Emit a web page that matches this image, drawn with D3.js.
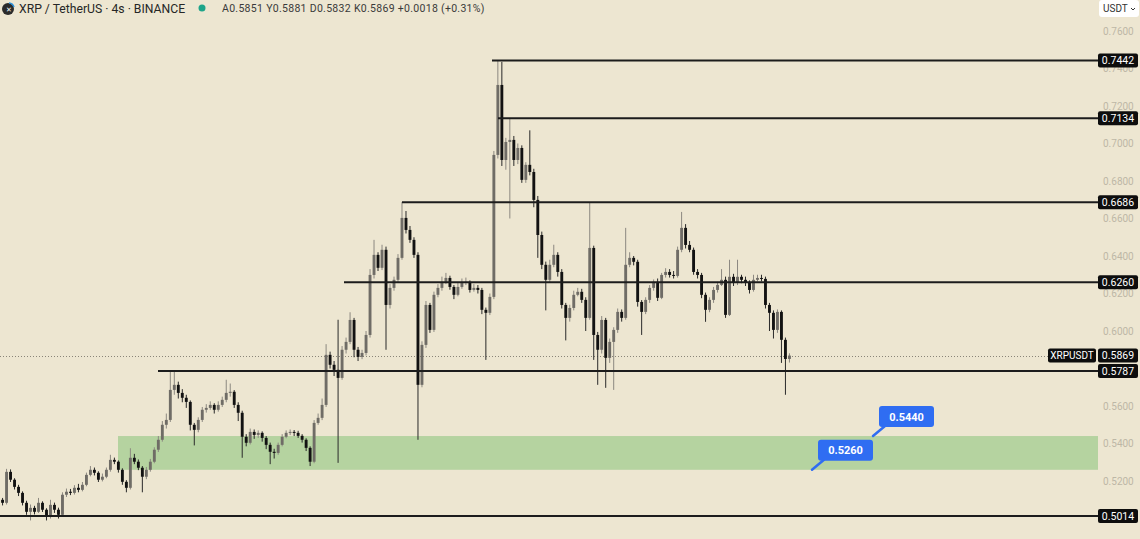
<!DOCTYPE html>
<html><head><meta charset="utf-8">
<script src="https://cdn.jsdelivr.net/npm/d3@7"></script>
<style>html,body{margin:0;padding:0;background:#ede6d1;overflow:hidden}svg{display:block}</style>
</head><body><svg id="c" width="1140" height="539"></svg>
<script>
const firstOpen = 0.5100;
const closes = [.5084,.5249,.5207,.5169,.5137,.5084,.5036,.5057,.5036,.5084,.5047,.5009,.5073,.5047,.5020,.5127,.5143,.5137,.5164,.5153,
.5180,.5233,.5260,.5244,.5207,.5223,.5260,.5313,.5303,.5260,.5196,.5164,.5324,.5303,.5271,.5223,.5260,.5303,.5367,.5420,
.5500,.5526,.5686,.5713,.5670,.5644,.5622,.5500,.5473,.5526,.5580,.5590,.5606,.5580,.5606,.5633,.5670,.5676,.5606,.5564,
.5436,.5404,.5462,.5446,.5457,.5430,.5393,.5356,.5350,.5393,.5436,.5457,.5462,.5457,.5441,.5420,.5377,.5303,.5510,.5537,
.5606,.5873,.5820,.5793,.5750,.5900,.5942,.6059,.5900,.5862,.5883,.5979,.6299,.6406,.6337,.6433,.6139,.6230,.6273,.6390,
.6603,.6539,.6486,.6406,.5713,.5926,.6139,.6006,.6193,.6230,.6262,.6283,.6235,.6193,.6235,.6257,.6262,.6219,.6230,.6219,
.6113,.6097,.6182,.6939,.7312,.6912,.7008,.7019,.6912,.6976,.6806,.6886,.6848,.6699,.6512,.6353,.6273,.6353,.6406,.6315,
.6139,.6070,.6123,.6193,.6209,.6166,.6070,.6443,.5979,.5900,.6059,.5857,.5942,.6006,.6102,.6070,.6353,.6390,.6369,.6155,
.6102,.6166,.6230,.6262,.6177,.6299,.6315,.6299,.6294,.6433,.6550,.6459,.6433,.6315,.6299,.6193,.6113,.6166,.6219,.6246,
.6273,.6086,.6289,.6257,.6289,.6273,.6257,.6219,.6273,.6283,.6278,.6139,.6097,.6006,.6102,.5953,.5851,.5869];
const highs = [.5110,.5265,.5262,.5215,.5180,.5145,.5095,.5075,.5068,.5110,.5092,.5055,.5100,.5085,.5058,.5140,.5160,.5158,.5178,.5185,
.5195,.5245,.5280,.5272,.5252,.5240,.5272,.5340,.5325,.5310,.5268,.5205,.5375,.5345,.5315,.5280,.5275,.5318,.5380,.5440,
.5520,.5560,.5787,.5785,.5730,.5690,.5660,.5630,.5510,.5540,.5595,.5610,.5625,.5615,.5625,.5650,.5740,.5720,.5685,.5620,
.5575,.5450,.5480,.5475,.5470,.5465,.5440,.5405,.5372,.5405,.5450,.5470,.5475,.5472,.5468,.5450,.5428,.5385,.5525,.5560,
.5640,.5930,.5890,.5840,.6060,.5920,.5965,.6100,.6070,.5915,.5900,.6000,.6330,.6486,.6420,.6460,.6450,.6250,.6290,.6410,
.6688,.6640,.6560,.6500,.6420,.5945,.6160,.6150,.6210,.6250,.6290,.6310,.6295,.6245,.6260,.6280,.6285,.6270,.6250,.6245,
.6230,.6125,.6200,.6960,.7442,.7435,.7030,.7136,.7040,.7000,.6990,.6900,.7070,.6865,.6720,.6530,.6370,.6380,.6460,.6420,
.6330,.6150,.6140,.6215,.6230,.6225,.6180,.6683,.6455,.5995,.6080,.6070,.5960,.6020,.6120,.6115,.6550,.6420,.6400,.6380,
.6165,.6180,.6245,.6275,.6280,.6310,.6335,.6330,.6320,.6450,.6635,.6570,.6480,.6445,.6330,.6310,.6205,.6180,.6235,.6262,
.6330,.6290,.6380,.6305,.6380,.6300,.6290,.6270,.6300,.6300,.6300,.6290,.6150,.6110,.6115,.6110,.5965,.5881];
const lows = [.5070,.5075,.5195,.5155,.5120,.5070,.5020,.4990,.5022,.5030,.5035,.4990,.5000,.5030,.5000,.5010,.5115,.5125,.5128,.5140,
.5145,.5172,.5225,.5230,.5195,.5198,.5215,.5250,.5290,.5245,.5180,.5140,.5155,.5290,.5258,.5140,.5210,.5250,.5295,.5355,
.5410,.5480,.5515,.5660,.5640,.5620,.5590,.5470,.5390,.5460,.5515,.5565,.5580,.5560,.5570,.5595,.5620,.5650,.5590,.5520,
.5324,.5385,.5395,.5425,.5430,.5410,.5370,.5290,.5320,.5340,.5385,.5428,.5445,.5440,.5430,.5405,.5360,.5280,.5295,.5500,
.5525,.5595,.5800,.5760,.5297,.5740,.5880,.5930,.5860,.5840,.5850,.5870,.5965,.6280,.6320,.6325,.5900,.6120,.6215,.6260,
.6380,.6520,.6470,.6390,.5420,.5700,.5910,.5990,.5995,.6180,.6215,.6250,.6220,.6170,.6185,.6225,.6245,.6205,.6210,.6200,
.6090,.5846,.6085,.6170,.6920,.6880,.6860,.6600,.6880,.6890,.6790,.6790,.6830,.6660,.6390,.6330,.6110,.6260,.6340,.6290,
.6120,.5950,.6050,.6110,.6185,.6150,.6000,.6060,.5846,.5713,.5880,.5697,.5830,.5686,.5990,.6050,.6060,.6340,.6350,.6130,
.5979,.6090,.6150,.6215,.6160,.6170,.6285,.6285,.6280,.6285,.6420,.6440,.6420,.6300,.6280,.6175,.6049,.6100,.6150,.6205,
.6240,.6070,.6080,.6240,.6245,.6255,.6240,.6200,.6210,.6265,.6265,.6120,.6000,.5960,.5990,.5830,.5660,.5832];

const levels = [0.7442, 0.7134, 0.6686, 0.6260, 0.5787, 0.5014];
const levelStart = [122.5, 124, 100, 85.5, 39, -0.5];
const zoneLow = 0.5260, zoneHigh = 0.5440, zoneStart = 29;
const lastPrice = 0.5869;
const tickValues = [0.76, 0.74, 0.72, 0.70, 0.68, 0.66, 0.64, 0.62, 0.60, 0.56, 0.54, 0.52];
const callouts = [{price: 0.5440, at: 217.75}, {price: 0.5260, at: 202.5}];
const title = "XRP / TetherUS · 4s · BINANCE";
const ohlcNames = ["A", "Y", "D", "K"];
const ohlcValues = [0.5851, 0.5881, 0.5832, 0.5869];
const changeText = "+0.0018 (+0.31%)";
const symbolName = "XRPUSDT";
const currency = "USDT";

const N = closes.length;
const opens = closes.map((c, i) => i === 0 ? firstOpen : closes[i - 1]);
const data = closes.map((c, i) => ({i, o: opens[i], h: highs[i], l: lows[i], c}));

const svg = d3.select("#c");
const plotRight = 1098;
const y = d3.scaleLinear().domain([0.7765, 0.4891]).range([0, 539]);
const xb = d3.scaleBand().domain(d3.range(N)).range([0, 4 * N]).padding(0.28);
const xl = d3.scaleLinear().domain([0, N - 1]).range([2, 4 * N - 2]);

svg.append("rect").attr("width", 1140).attr("height", 539).attr("fill", "#ede6d1");

// zone
svg.append("rect").attr("x", xl(zoneStart)).attr("y", y(zoneHigh))
  .attr("width", plotRight - xl(zoneStart)).attr("height", y(zoneLow) - y(zoneHigh))
  .attr("fill", "#b5d3a0");

// last price dotted line
svg.append("line").attr("x1", 0).attr("x2", 1048).attr("y1", Math.round(y(lastPrice)) + 0.5).attr("y2", Math.round(y(lastPrice)) + 0.5)
  .attr("stroke", "#8a8578").attr("stroke-width", 1).attr("stroke-dasharray", "1,2");

// candles
const upCol = "#6f6c66", downCol = "#121212";
const g = svg.append("g");
const cg = g.selectAll("g.cd").data(data).join("g");
cg.append("line")
  .attr("x1", d => xb(d.i) + xb.bandwidth() / 2).attr("x2", d => xb(d.i) + xb.bandwidth() / 2)
  .attr("y1", d => y(d.h)).attr("y2", d => y(d.l))
  .attr("stroke", d => d.c >= d.o ? "#8c8880" : "#2a2a2a").attr("stroke-width", 1);
cg.append("rect")
  .attr("x", d => xb(d.i)).attr("width", xb.bandwidth())
  .attr("y", d => y(Math.max(d.o, d.c)))
  .attr("height", d => Math.max(1, Math.abs(y(d.o) - y(d.c))))
  .attr("fill", d => d.c >= d.o ? upCol : downCol);

// level lines
svg.selectAll("line.lvl").data(levels).join("line")
  .attr("x1", (d, k) => Math.max(0, xl(levelStart[k]))).attr("x2", plotRight)
  .attr("y1", d => y(d)).attr("y2", d => y(d))
  .attr("stroke", "#1c1c1c").attr("stroke-width", 2);

// axis
const axis = d3.axisRight(y).tickValues(tickValues).tickFormat(d3.format(".4f")).tickSize(0).tickPadding(5);
const ag = svg.append("g").attr("transform", `translate(${plotRight},0)`).call(axis);
ag.select(".domain").remove();
ag.selectAll("text").attr("fill", "#bdb7a6").attr("font-family", "Roboto, sans-serif").attr("font-size", 10);

// level labels
function priceTag(v, fill) {
  const yy = y(v);
  svg.append("rect").attr("x", plotRight).attr("y", yy - 7).attr("width", 40).attr("height", 14)
    .attr("rx", 2).attr("fill", fill);
  svg.append("text").attr("x", plotRight + 20).attr("y", yy + 3.6).attr("text-anchor", "middle")
    .attr("fill", "#fff").attr("font-family", "Roboto, sans-serif").attr("font-size", 10.5)
    .text(d3.format(".4f")(v));
}
levels.forEach(v => priceTag(v, "#0d0d0d"));
priceTag(lastPrice, "#0d0d0d");
svg.append("rect").attr("x", 1048).attr("y", y(lastPrice) - 7).attr("width", 48).attr("height", 14).attr("rx", 2).attr("fill", "#0d0d0d");
svg.append("text").attr("x", 1072).attr("y", y(lastPrice) + 3.6).attr("text-anchor", "middle")
  .attr("fill", "#fff").attr("font-family", "Roboto, sans-serif").attr("font-size", 10).text(symbolName);

// callouts
const blue = "#2f6df2";
callouts.forEach(cb => {
  const ax = xl(cb.at), ay = y(cb.price);
  svg.append("line").attr("x1", ax).attr("y1", ay).attr("x2", ax + 12).attr("y2", ay - 10)
    .attr("stroke", blue).attr("stroke-width", 2.5).attr("stroke-linecap", "round");
  svg.append("rect").attr("x", ax + 6).attr("y", ay - 30).attr("width", 55).attr("height", 21).attr("rx", 3).attr("fill", blue);
  svg.append("text").attr("x", ax + 33.5).attr("y", ay - 15.5).attr("text-anchor", "middle").attr("fill", "#fff")
    .attr("font-family", "Roboto, sans-serif").attr("font-weight", 700).attr("font-size", 11).text(d3.format(".4f")(cb.price));
});

// header
const hg = svg.append("g");
hg.append("circle").attr("cx", 8).attr("cy", 9).attr("r", 6).attr("fill", "#2b2b2b");
hg.append("path").attr("d", "M9,3 A6,6 0 0 1 14,7").attr("stroke", "#2a8fd8").attr("stroke-width", 1.5).attr("fill", "none");
hg.append("text").attr("x", 6).attr("y", 12).attr("fill", "#fff").attr("font-size", 7).attr("font-family", "Roboto, sans-serif").text("✕");
hg.append("text").attr("x", 19).attr("y", 12.5).attr("fill", "#262626").attr("font-family", "Roboto, sans-serif").attr("font-size", 12.2).text(title);
hg.append("circle").attr("cx", 202).attr("cy", 8).attr("r", 3.5).attr("fill", "#1ea58a");
const ohlcText = ohlcNames.map((n, k) => n + ohlcValues[k].toFixed(4)).join(" ") + " " + changeText;
hg.append("text").attr("x", 222).attr("y", 11.5).attr("fill", "#3a3a3a").attr("font-family", "Roboto, sans-serif").attr("font-size", 10.5).attr("letter-spacing", 0.3).text(ohlcText);

// currency button
svg.append("rect").attr("x", 1099).attr("y", 0).attr("width", 40).attr("height", 17).attr("rx", 3).attr("fill", "#ffffff");
svg.append("text").attr("x", 1103).attr("y", 12).attr("fill", "#333").attr("font-family", "Roboto, sans-serif").attr("font-size", 10).text(currency);
svg.append("path").attr("d", "M1131,8 l2,2 l2,-2").attr("stroke", "#333").attr("fill", "none").attr("stroke-width", 1);
</script></body></html>
